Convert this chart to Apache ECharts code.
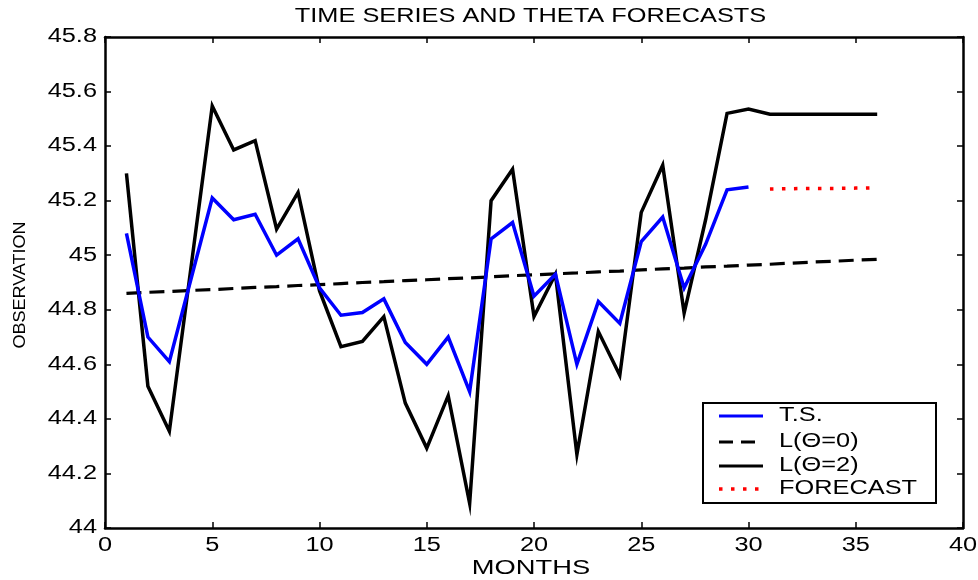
<!DOCTYPE html>
<html>
<head>
<meta charset="utf-8">
<script src="https://cdn.jsdelivr.net/npm/echarts@6/dist/echarts.min.js"></script>
<style>
html,body{margin:0;padding:0;background:#fff;}
#main{width:978px;height:580px;}
</style>
</head>
<body>
<div id="main"></div>
<script>
// ---- data ----
const months = [1,2,3,4,5,6,7,8,9,10,11,12,13,14,15,16,17,18,19,20,21,22,23,24,25,26,27,28,29,30,31,32,33,34,35,36];
const tsValues = [45.08,44.70,44.61,44.91,45.21,45.13,45.15,45.00,45.06,44.88,44.78,44.79,44.84,44.68,44.60,44.70,44.50,45.06,45.12,44.85,44.93,44.60,44.83,44.75,45.05,45.14,44.88,45.04,45.24,45.25];
const theta0Values = [44.860,44.864,44.867,44.871,44.874,44.878,44.882,44.885,44.889,44.892,44.896,44.900,44.903,44.907,44.910,44.914,44.917,44.921,44.925,44.928,44.932,44.935,44.939,44.942,44.946,44.950,44.953,44.957,44.960,44.964,44.967,44.971,44.975,44.978,44.982,44.985];
const theta2Values = [45.30,44.52,44.355,44.95,45.547,45.386,45.42,45.096,45.23,44.87,44.665,44.684,44.775,44.458,44.293,44.485,44.09,45.20,45.315,44.775,44.93,44.27,44.72,44.56,45.157,45.33,44.788,45.13,45.52,45.536,45.517,45.517,45.517,45.517,45.517,45.517];
const forecastMonths = [31,32,33,34,35,36];
const forecastValues = [45.243,45.244,45.245,45.245,45.246,45.247];
const xTickValues = [0,5,10,15,20,25,30,35,40];
const xTickLabels = ['0','5','10','15','20','25','30','35','40'];
const yTickValues = [44,44.2,44.4,44.6,44.8,45,45.2,45.4,45.6,45.8];
const yTickLabels = ['44','44.2','44.4','44.6','44.8','45','45.2','45.4','45.6','45.8'];
const legendNames = ['T.S.','L(\u0398=0)','L(\u0398=2)','FORECAST'];

function pairs(xs, ys){ return ys.map((v,i)=>[xs[i], v]); }

const FONT = '"Liberation Sans", Arial, sans-serif';
const chart = echarts.init(document.getElementById('main'));

const axisCommon = {
  type:'value',
  axisLine:{show:true,onZero:false,lineStyle:{color:'#000',width:2.5}},
  axisTick:{show:true,inside:true,length:6,lineStyle:{color:'#000',width:1.5}},
  axisLabel:{show:false},
  splitLine:{show:false}
};

chart.setOption({
  animation:false,
  backgroundColor:'#fff',
  grid:{left:105,right:15,top:37,bottom:52,show:false},
  xAxis:[
    Object.assign({}, axisCommon, {min:0,max:40,interval:5,position:'bottom'}),
    Object.assign({}, axisCommon, {min:0,max:40,interval:5,position:'top'})
  ],
  yAxis:[
    Object.assign({}, axisCommon, {min:44,max:45.8,interval:0.2,position:'left'}),
    Object.assign({}, axisCommon, {min:44,max:45.8,interval:0.2,position:'right'})
  ],
  series:[
    {name:legendNames[1],type:'line',data:pairs(months,theta0Values),showSymbol:false,symbol:'none',
     lineStyle:{color:'#000',width:3.2,type:[15,8]}},
    {name:legendNames[2],type:'line',data:pairs(months,theta2Values),showSymbol:false,symbol:'none',
     lineStyle:{color:'#000',width:3.5,join:'miter'}},
    {name:legendNames[0],type:'line',data:pairs(months,tsValues),showSymbol:false,symbol:'none',
     lineStyle:{color:'#0000ff',width:3.5,join:'miter'}},
    {name:legendNames[3],type:'line',data:pairs(forecastMonths,forecastValues),showSymbol:false,symbol:'none',
     lineStyle:{color:'#ff0000',width:3.5,type:[3.5,8.5]}}
  ]
});

// ---- text (stretched horizontally like the reference) ----
const SX = 1.3;
const graphics = [];
function txt(text, x, y, align, size, scaleX, rotation){
  return {type:'text', x:x, y:y, scaleX:scaleX||SX, rotation:rotation||0, z:100,
    style:{text:text, font: size+'px '+FONT, fill:'#000', align:align, verticalAlign:'middle'}};
}
graphics.push(txt('TIME SERIES AND THETA FORECASTS', 530.5, 16.5, 'center', 19.5));
graphics.push(txt('MONTHS', 531, 569, 'center', 19.5, 1.4));
graphics.push(txt('OBSERVATION', 20, 285, 'center', 17, 1.06, Math.PI/2));
xTickValues.forEach((v,i)=>{
  const px = chart.convertToPixel({xAxisIndex:0}, v);
  graphics.push(txt(xTickLabels[i], px, 546, 'center', 19.5));
});
yTickValues.forEach((v,i)=>{
  const py = chart.convertToPixel({yAxisIndex:0}, v);
  graphics.push(txt(yTickLabels[i], 97, py, 'right', 19.5));
});
// legend box
graphics.push({type:'rect', z:90, shape:{x:703,y:403,width:233,height:100},
  style:{fill:'#fff', stroke:'#000', lineWidth:2}});
const legY = [416,442,466,489];
const legStyles = [
  {stroke:'#0000ff', lineWidth:3},
  {stroke:'#000', lineWidth:3, lineDash:[14,8]},
  {stroke:'#000', lineWidth:3},
  {stroke:'#ff0000', lineWidth:3.5, lineDash:[3.5,8.5]}
];
legendNames.forEach((n,i)=>{
  graphics.push({type:'line', z:95, shape:{x1:719,y1:legY[i],x2:763,y2:legY[i]}, style:legStyles[i]});
  graphics.push(txt(n, 779, legY[i], 'left', 19.5));
});
chart.setOption({graphic:graphics});
</script>
</body>
</html>
